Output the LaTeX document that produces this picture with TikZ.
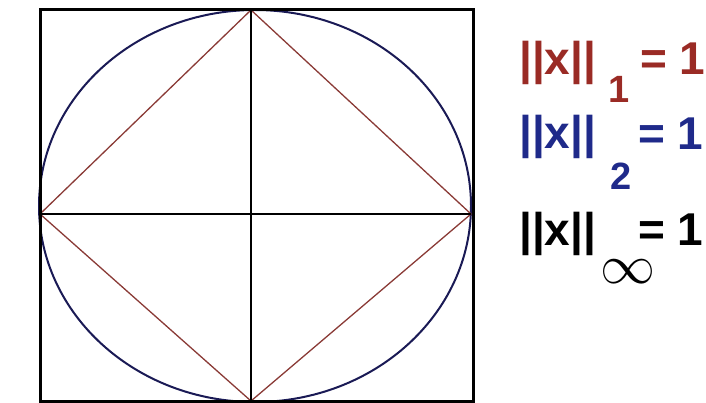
\documentclass[tikz,border=0pt]{standalone}
\usepackage{fontspec}
\setmainfont{Liberation Sans}
\usetikzlibrary{positioning}
\definecolor{normred}{HTML}{9A2B25}
\definecolor{normblue}{HTML}{1F2A8A}
\definecolor{circnavy}{HTML}{1A1A55}
\definecolor{diamred}{HTML}{8A3A36}

\begin{document}
\begin{tikzpicture}[x=1pt, y=-1pt,
        frame/.style={line width=3pt},
        axis/.style={line width=2.6pt},
        unitcirc/.style={draw=circnavy, line width=2pt},
        diam/.style={draw=diamred, line width=1.3pt},
        lbl/.style={inner sep=0pt, anchor=base west,
                    font=\fontsize{46}{46}\selectfont\bfseries},
        sublbl/.style={inner sep=0pt, anchor=base west,
                    font=\fontsize{38}{38}\selectfont\bfseries}
      ]
      \useasboundingbox (0,0) rectangle (706,403);
      % frame and axes
      \coordinate (nw) at (40,10);
      \coordinate (se) at (473,401);
      \coordinate (top) at (251,10);
      \coordinate (bot) at (251,401);
      \coordinate (lft) at (40,214);
      \coordinate (rgt) at (471,214);
      \draw[unitcirc] (255,206) ellipse [x radius=216, y radius=196];
      \draw[diam] (top) -- (rgt) -- (bot) -- (lft) -- cycle;
      \draw[axis] (top) -- (bot);
      \draw[axis] (lft) -- (rgt);
      \draw[frame] (nw) rectangle (se);

      % labels
      \node[lbl, normred] (one) at (519,75) {||x||};
      \node[sublbl, normred] (onesub) at (608,103) {1};
      \node[lbl, normred] (oneeq) at (640,75) {= 1};
      \node[lbl, normblue] (two) at (519,149) {||x||};
      \node[sublbl, normblue] (twosub) at (610,190) {2};
      \node[lbl, normblue] (twoeq) at (638,150) {= 1};
      \node[lbl] (inf) at (519,245) {||x||};
      \node[inner sep=0pt, anchor=base west] (infsub) at (600,283)
        {\scalebox{5.5}{$\infty$}};
      \node[lbl] (infeq) at (638,246) {= 1};
    \end{tikzpicture}
\end{document}
